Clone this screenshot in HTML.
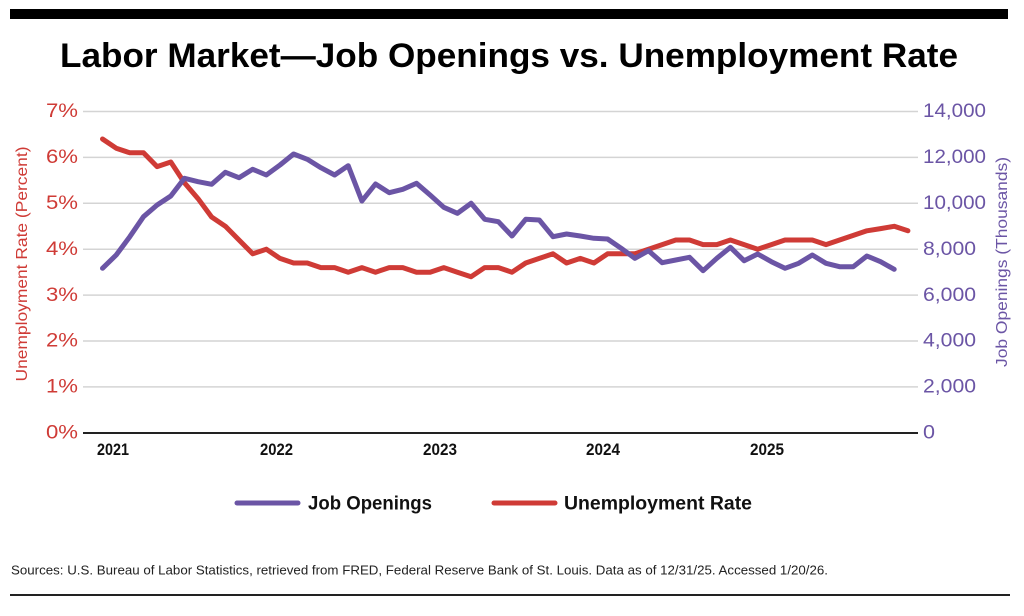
<!DOCTYPE html>
<html>
<head>
<meta charset="utf-8">
<style>
  html, body { margin: 0; padding: 0; background: #ffffff; }
  body { width: 1024px; height: 616px; overflow: hidden; }
  svg { display: block; }
  .ff { font-family: "Liberation Sans", Arial, sans-serif; }
  .nar { font-family: "Liberation Sans Narrow", "Liberation Sans", Arial, sans-serif; }
</style>
</head>
<body>
<svg width="1024" height="616" viewBox="0 0 1024 616" xmlns="http://www.w3.org/2000/svg">
  <rect x="0" y="0" width="1024" height="616" fill="#ffffff"/>
  <!-- top bar -->
  <rect x="10" y="9" width="998" height="10" fill="#000000"/>
  <!-- title -->
  <text class="ff" x="60" y="67" font-size="34" font-weight="bold" fill="#000" textLength="898" lengthAdjust="spacingAndGlyphs">Labor Market—Job Openings vs. Unemployment Rate</text>

  <!-- gridlines -->
  <g stroke="#d4d4d4" stroke-width="1.5">
    <line x1="83" y1="111.5" x2="918" y2="111.5"/>
    <line x1="83" y1="157.4" x2="918" y2="157.4"/>
    <line x1="83" y1="203.3" x2="918" y2="203.3"/>
    <line x1="83" y1="249.2" x2="918" y2="249.2"/>
    <line x1="83" y1="295.1" x2="918" y2="295.1"/>
    <line x1="83" y1="341" x2="918" y2="341"/>
    <line x1="83" y1="386.9" x2="918" y2="386.9"/>
  </g>
  <line x1="83" y1="433" x2="918" y2="433" stroke="#222" stroke-width="2"/>

  <!-- left tick labels -->
  <g class="ff" font-size="19" fill="#cf3b36">
    <text x="46" y="117" textLength="32" lengthAdjust="spacingAndGlyphs">7%</text>
    <text x="46" y="163" textLength="32" lengthAdjust="spacingAndGlyphs">6%</text>
    <text x="46" y="209" textLength="32" lengthAdjust="spacingAndGlyphs">5%</text>
    <text x="46" y="255" textLength="32" lengthAdjust="spacingAndGlyphs">4%</text>
    <text x="46" y="301" textLength="32" lengthAdjust="spacingAndGlyphs">3%</text>
    <text x="46" y="346.5" textLength="32" lengthAdjust="spacingAndGlyphs">2%</text>
    <text x="46" y="392.5" textLength="32" lengthAdjust="spacingAndGlyphs">1%</text>
    <text x="46" y="438.5" textLength="32" lengthAdjust="spacingAndGlyphs">0%</text>
  </g>
  <!-- right tick labels -->
  <g class="ff" font-size="19" fill="#6b55a5">
    <text x="923" y="117" textLength="63" lengthAdjust="spacingAndGlyphs">14,000</text>
    <text x="923" y="163" textLength="63" lengthAdjust="spacingAndGlyphs">12,000</text>
    <text x="923" y="209" textLength="63" lengthAdjust="spacingAndGlyphs">10,000</text>
    <text x="923" y="255" textLength="53" lengthAdjust="spacingAndGlyphs">8,000</text>
    <text x="923" y="301" textLength="53" lengthAdjust="spacingAndGlyphs">6,000</text>
    <text x="923" y="346.5" textLength="53" lengthAdjust="spacingAndGlyphs">4,000</text>
    <text x="923" y="392.5" textLength="53" lengthAdjust="spacingAndGlyphs">2,000</text>
    <text x="923" y="438.5" textLength="12" lengthAdjust="spacingAndGlyphs">0</text>
  </g>

  <!-- axis titles -->
  <text class="ff" font-size="15.5" fill="#cf3b36" text-anchor="middle" transform="translate(27,264) rotate(-90)" textLength="235" lengthAdjust="spacingAndGlyphs">Unemployment Rate (Percent)</text>
  <text class="ff" font-size="15.5" fill="#6b55a5" text-anchor="middle" transform="translate(1007,262) rotate(-90)" textLength="210" lengthAdjust="spacingAndGlyphs">Job Openings (Thousands)</text>

  <!-- x labels -->
  <g class="nar" font-size="17" font-weight="bold" fill="#111">
    <text x="97" y="455" textLength="32" lengthAdjust="spacingAndGlyphs">2021</text>
    <text x="260" y="455" textLength="33" lengthAdjust="spacingAndGlyphs">2022</text>
    <text x="423" y="455" textLength="34" lengthAdjust="spacingAndGlyphs">2023</text>
    <text x="586" y="455" textLength="34" lengthAdjust="spacingAndGlyphs">2024</text>
    <text x="750" y="455" textLength="34" lengthAdjust="spacingAndGlyphs">2025</text>
  </g>

  <!-- unemployment series -->
  <polyline fill="none" stroke="#cf3b36" stroke-width="5" stroke-linejoin="round" stroke-linecap="round"
    points="102.5,139.0 116.2,148.2 129.8,152.8 143.5,152.8 157.1,166.6 170.8,162.0 184.4,182.7 198.1,198.7 211.7,217.1 225.4,226.3 239.0,240.0 252.7,253.8 266.3,249.2 280.0,258.4 293.6,263.0 307.3,263.0 320.9,267.6 334.6,267.6 348.2,272.2 361.9,267.6 375.5,272.2 389.2,267.6 402.8,267.6 416.5,272.2 430.1,272.2 443.8,267.6 457.4,272.2 471.1,276.7 484.7,267.6 498.4,267.6 512.0,272.2 525.7,263.0 539.3,258.4 553.0,253.8 566.6,263.0 580.3,258.4 593.9,263.0 607.6,253.8 621.2,253.8 634.9,253.8 648.5,249.2 662.2,244.6 675.8,240.0 689.5,240.0 703.1,244.6 716.8,244.6 730.4,240.0 744.1,244.6 757.7,249.2 771.4,244.6 785.0,240.0 798.7,240.0 812.3,240.0 826.0,244.6 839.6,240.0 853.3,235.4 866.9,230.8 880.6,228.6 894.2,226.3 907.9,230.8"/>

  <!-- job openings series -->
  <polyline fill="none" stroke="#6b55a5" stroke-width="5" stroke-linejoin="round" stroke-linecap="round"
    points="102.5,268.3 116.2,255 129.8,236.7 143.5,216.7 157.1,205 170.8,196 184.4,178.3 198.1,181.7 211.7,184.3 225.4,172.3 239.0,177.7 252.7,169.3 266.3,175 280.0,165 293.6,154 307.3,159.3 320.9,167.7 334.6,175 348.2,165.7 361.9,201 375.5,184 389.2,192.7 402.8,189.3 416.5,183.3 430.1,195 443.8,207.3 457.4,213.3 471.1,203.3 484.7,219.3 498.4,221.7 512.0,236 525.7,219.3 539.3,220 553.0,236.7 566.6,234 580.3,236 593.9,238.3 607.6,239 621.2,248.3 634.9,258.3 648.5,250.7 662.2,262.7 675.8,260 689.5,257.3 703.1,270.7 716.8,258.3 730.4,247.3 744.1,260.7 757.7,254 771.4,261.7 785.0,268.3 798.7,263.3 812.3,255 826.0,263.3 839.6,266.7 853.3,266.7 866.9,256 880.6,261.7 894.2,269.3"/>

  <!-- legend -->
  <line x1="237" y1="503" x2="298" y2="503" stroke="#6b55a5" stroke-width="5" stroke-linecap="round"/>
  <text class="ff" x="308" y="509.5" font-size="19" font-weight="bold" fill="#111" textLength="124" lengthAdjust="spacingAndGlyphs">Job Openings</text>
  <line x1="494" y1="503" x2="555" y2="503" stroke="#cf3b36" stroke-width="5" stroke-linecap="round"/>
  <text class="ff" x="564" y="509.5" font-size="19" font-weight="bold" fill="#111" textLength="188" lengthAdjust="spacingAndGlyphs">Unemployment Rate</text>

  <!-- footer -->
  <text class="nar" x="11" y="574.5" font-size="12.5" fill="#222" textLength="817" lengthAdjust="spacingAndGlyphs">Sources: U.S. Bureau of Labor Statistics, retrieved from FRED, Federal Reserve Bank of St. Louis. Data as of 12/31/25. Accessed 1/20/26.</text>
  <rect x="10" y="594" width="1000" height="2" fill="#222"/>
</svg>
</body>
</html>
